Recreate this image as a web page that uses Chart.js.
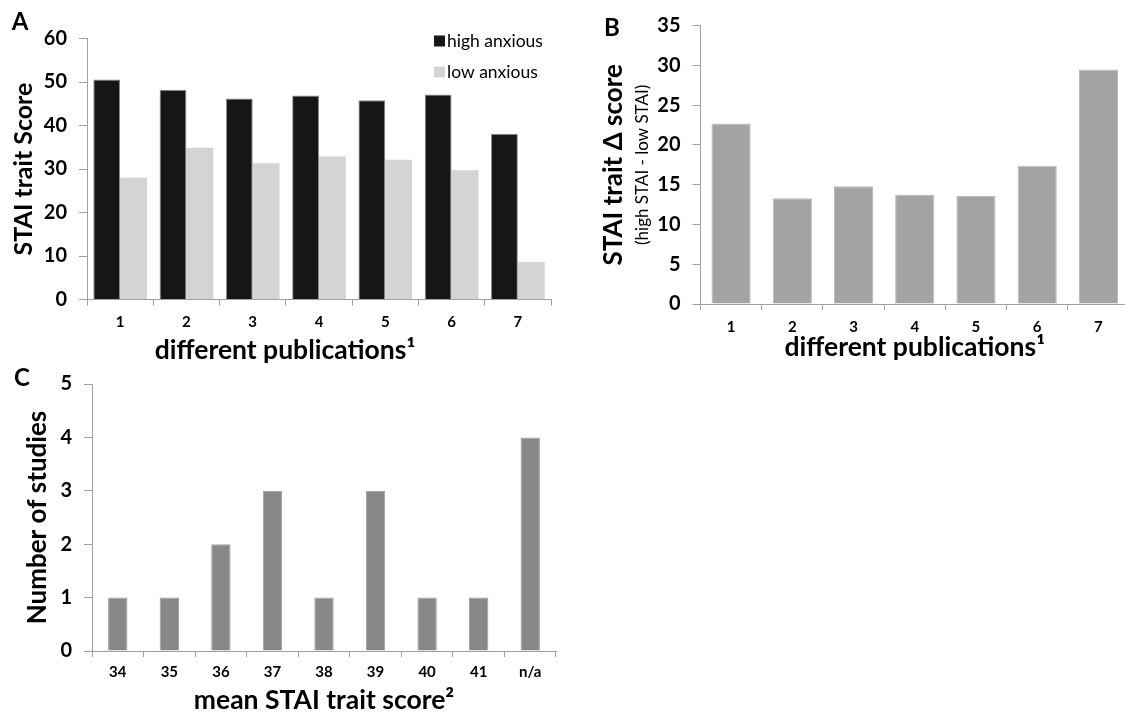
<!DOCTYPE html>
<html>
<head>
<meta charset="utf-8">
<script src="https://cdn.jsdelivr.net/npm/chart.js@4"></script>
<style>
    body { margin: 0; width: 1125px; height: 714px; overflow: hidden; background: #fff; position: relative; font-family: Lato, sans-serif; }
    canvas { position: absolute; }
    .letra { position: absolute; font: bold 24px Lato; color: #000; transform: translate(-50%, -50%); }
    .tituloX { position: absolute; font: bold 26.5px Lato; color: #000; transform: translate(-50%, -50%); white-space: nowrap; }
</style>
</head>
<body>
<canvas id="graficoA" width="560" height="362" style="left:0px;top:0px"></canvas>
<canvas id="graficoB" width="580" height="362" style="left:560px;top:0px"></canvas>
<canvas id="graficoC" width="560" height="354" style="left:0px;top:360px"></canvas>

<div class="letra" style="left:20px;top:20px">A</div>
<div class="letra" style="left:612px;top:26px">B</div>
<div class="letra" style="left:22px;top:376px">C</div>
<div class="tituloX" style="left:285px;top:349px">different publications¹</div>

<script>
// dados
const publicacoes = ['1', '2', '3', '4', '5', '6', '7'];
const altaAnsiedade = [50.6, 48.2, 46.2, 46.9, 45.8, 47.1, 38.1];
const baixaAnsiedade = [28.0, 34.9, 31.3, 32.9, 32.1, 29.7, 8.6];
const deltaStai = [22.7, 13.3, 14.8, 13.75, 13.6, 17.4, 29.5];
const mediaStai = ['34', '35', '36', '37', '38', '39', '40', '41', 'n/a'];
const numeroEstudos = [1, 1, 2, 3, 1, 3, 1, 1, 4];

Chart.defaults.font.family = 'Lato';
Chart.defaults.color = '#000';

const corEixo = '#a0a0a0';

function eixoX(altura, padding, titulo) {
    return {
        afterFit: function (scale) { scale.height = altura; },
        grid: { display: true, drawOnChartArea: false, drawTicks: true, tickLength: 6, color: corEixo, offset: true },
        border: { display: true, color: corEixo, width: 1 },
        ticks: { font: { size: 15, weight: 'bold' }, padding: padding, color: '#000' },
        title: titulo
    };
}

function eixoY(largura, max, passo, pesoFonte, titulo) {
    return {
        min: 0,
        max: max,
        afterFit: function (scale) { scale.width = largura; },
        grid: { display: true, drawOnChartArea: false, drawTicks: true, tickLength: 8, color: corEixo },
        border: { display: true, color: corEixo, width: 1 },
        ticks: { stepSize: passo, font: { size: 20, weight: pesoFonte }, padding: 12, color: '#000' },
        title: titulo
    };
}

// legenda desenhada dentro da area do grafico A
const legendaA = {
    id: 'legendaA',
    afterDraw: function (chart) {
        const ctx = chart.ctx;
        ctx.save();
        ctx.font = '17.5px Lato';
        ctx.textBaseline = 'middle';
        chart.data.datasets.forEach(function (ds, i) {
            const y = 41 + i * 31;
            ctx.fillStyle = ds.backgroundColor;
            ctx.fillRect(434, y - 5.5, 11, 11);
            ctx.fillStyle = '#000';
            ctx.fillText(ds.label, 447, y);
        });
        ctx.restore();
    }
};

// subtitulo do eixo y do grafico B
const subtituloB = {
    id: 'subtituloB',
    afterDraw: function (chart) {
        const ctx = chart.ctx;
        const area = chart.chartArea;
        ctx.save();
        ctx.translate(83, (area.top + area.bottom) / 2);
        ctx.rotate(-Math.PI / 2);
        ctx.font = '17px Lato';
        ctx.fillStyle = '#000';
        ctx.textAlign = 'center';
        ctx.textBaseline = 'middle';
        ctx.fillText('(high STAI - low STAI)', 0, 0);
        ctx.restore();
    }
};

new Chart(document.getElementById('graficoA'), {
    type: 'bar',
    data: {
        labels: publicacoes,
        datasets: [{
            label: 'high anxious',
            data: altaAnsiedade,
            backgroundColor: '#161616',
            borderColor: '#8c8c8c',
            borderWidth: 1,
            categoryPercentage: 0.81,
            barPercentage: 1.0
        }, {
            label: 'low anxious',
            data: baixaAnsiedade,
            backgroundColor: '#d4d4d4',
            borderWidth: 0,
            categoryPercentage: 0.81,
            barPercentage: 1.0
        }]
    },
    options: {
        responsive: false,
        animation: false,
        layout: { padding: { top: 38.5, right: 9, left: 0, bottom: 0 } },
        plugins: { legend: { display: false }, tooltip: { enabled: false } },
        scales: {
            x: eixoX(62.5, 8, { display: false }),
            y: eixoY(87, 60, 10, 'bold', {
                display: true, text: 'STAI trait Score',
                font: { size: 25, weight: 'bold', lineHeight: 1 }, padding: { top: 11.5, bottom: 0 }
            })
        }
    },
    plugins: [legendaA]
});

new Chart(document.getElementById('graficoB'), {
    type: 'bar',
    data: {
        labels: publicacoes,
        datasets: [{
            label: 'STAI trait delta',
            data: deltaStai,
            backgroundColor: '#a3a3a3',
            borderColor: '#b8b8b8',
            borderWidth: 1,
            categoryPercentage: 0.64,
            barPercentage: 1.0
        }]
    },
    options: {
        responsive: false,
        animation: false,
        layout: { padding: { top: 25.7, right: 11, left: 0, bottom: 0 } },
        plugins: { legend: { display: false }, tooltip: { enabled: false } },
        scales: {
            x: eixoX(58, 8, {
                display: true, text: 'different publications¹',
                font: { size: 26.5, weight: 'bold', lineHeight: 1 }, padding: { top: 0, bottom: 1 }
            }),
            y: eixoY(140.5, 35, 5, 'bold', {
                display: true, text: 'STAI trait Δ score',
                font: { size: 26, weight: 'bold', lineHeight: 1 }, padding: { top: 41, bottom: 0 }
            })
        }
    },
    plugins: [subtituloB]
});

new Chart(document.getElementById('graficoC'), {
    type: 'bar',
    data: {
        labels: mediaStai,
        datasets: [{
            label: 'Number of studies',
            data: numeroEstudos,
            backgroundColor: '#888888',
            borderColor: '#a0a0a0',
            borderWidth: 1,
            categoryPercentage: 0.376,
            barPercentage: 1.0
        }]
    },
    options: {
        responsive: false,
        animation: false,
        layout: { padding: { top: 11, right: 4, left: 0, bottom: 0 } },
        plugins: { legend: { display: false }, tooltip: { enabled: false } },
        scales: {
            x: eixoX(63, 6, {
                display: true, text: 'mean STAI trait score²',
                font: { size: 26.5, weight: 'bold', lineHeight: 1 }, padding: { top: 0, bottom: 0 }
            }),
            y: eixoY(92, 5, 1, 'bold', {
                display: true, text: 'Number of studies',
                font: { size: 26, weight: 'bold', lineHeight: 1 }, padding: { top: 25, bottom: 0 }
            })
        }
    }
});
</script>
</body>
</html>
